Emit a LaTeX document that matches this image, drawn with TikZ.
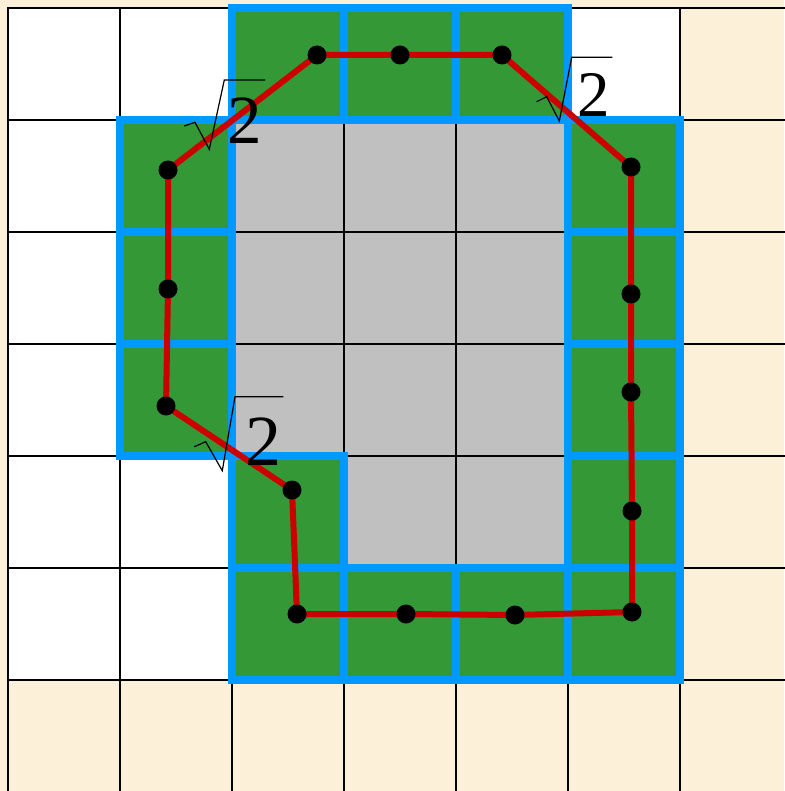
\documentclass[tikz,border=0pt]{standalone}
\usepackage{fontspec}
\setmainfont{Liberation Serif}
\definecolor{bgbeige}{RGB}{252,240,216}
\definecolor{cellgray}{RGB}{192,192,192}
\definecolor{cellgreen}{RGB}{53,152,55}
\definecolor{borderblue}{RGB}{0,153,255}
\definecolor{pathred}{RGB}{204,0,0}
\tikzset{
  gridline/.style={draw=black,line width=2.2pt,line cap=rect},
  blueborder/.style={draw=borderblue,line width=8pt,line join=miter},
  redpath/.style={draw=pathred,line width=6pt,line join=round},
  dotnode/.style={circle,fill=black,inner sep=0pt,minimum size=19pt},
  radical/.style={draw=black,line width=1.2pt,line join=miter},
  twolabel/.style={inner sep=0pt,anchor=base}
}
\begin{document}
\begin{tikzpicture}[x=1pt,y=-1pt]
\useasboundingbox (0,0) rectangle (784,791);
\fill[bgbeige] (0,0) rectangle (784,791);
\fill[white] (8,8) rectangle (680,680);
% gray cells
\foreach \cc/\rr in {2/1,3/1,4/1,2/2,3/2,4/2,2/3,3/3,4/3,3/4,4/4}
  \fill[cellgray] ({8+112*\cc},{8+112*\rr}) rectangle +(112,112);
% green cells
\foreach \cc/\rr in {2/0,3/0,4/0,1/1,5/1,1/2,5/2,1/3,5/3,2/4,5/4,2/5,3/5,4/5,5/5}
  \fill[cellgreen] ({8+112*\cc},{8+112*\rr}) rectangle +(112,112);
% grid
\foreach \ii in {0,...,6}{
  \draw[gridline] ({8+112*\ii},8) -- ({8+112*\ii},795);
  \draw[gridline] (8,{8+112*\ii}) -- (790,{8+112*\ii});
}
% blue borders
\foreach \cc/\rr in {2/0,3/0,4/0,1/1,5/1,1/2,5/2,1/3,5/3,2/4,5/4,2/5,3/5,4/5,5/5}
  \draw[blueborder] ({8+112*\cc},{8+112*\rr}) rectangle +(112,112);
% path points
\coordinate (p1) at (317,55);
\coordinate (p2) at (400,55);
\coordinate (p3) at (502,55);
\coordinate (p4) at (631,167);
\coordinate (p5) at (631,294);
\coordinate (p6) at (631,392);
\coordinate (p7) at (632,511);
\coordinate (p8) at (632,612);
\coordinate (p9) at (515,615);
\coordinate (p10) at (406,614);
\coordinate (p11) at (297,614);
\coordinate (p12) at (292,490);
\coordinate (p13) at (166,406);
\coordinate (p14) at (168,289);
\coordinate (p15) at (168,170);
\draw[redpath] (p1) -- (p2) -- (p3) -- (p4) -- (p5) -- (p6) -- (p7) -- (p8)
  -- (p9) -- (p10) -- (p11) -- (p12) -- (p13) -- (p14) -- (p15) -- cycle;
\foreach \k in {1,...,15}
  \node[dotnode] (d\k) at (p\k) {};
% sqrt 2 labels
\draw[radical] (184.3,126) -- (195,122.3) -- (209.3,149.3) -- (224.3,80) -- (265,80);
\node[twolabel] (s1) at (245,144) {\fontsize{69}{69}\selectfont 2};
\draw[radical] (536.7,101.7) -- (546.7,96.7) -- (559.3,121) -- (571.7,57.3) -- (612.3,57.3);
\node[twolabel] (s2) at (594,116.7) {\fontsize{65}{65}\selectfont 2};
\draw[radical] (194.3,446.7) -- (205.7,441.7) -- (222.3,470.7) -- (235,396.7) -- (283.3,396.7);
\node[twolabel] (s3) at (263,465) {\fontsize{72}{72}\selectfont 2};
\end{tikzpicture}
\end{document}
